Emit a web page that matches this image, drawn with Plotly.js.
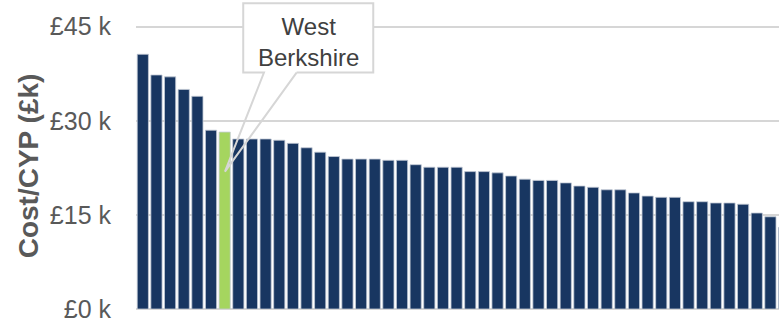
<!DOCTYPE html>
<html>
<head>
<meta charset="utf-8">
<script src="https://cdn.plot.ly/plotly-3.0.1.min.js"></script>
<style>
  html, body { margin: 0; padding: 0; background: #ffffff; }
  #chart { width: 779px; height: 323px; }
</style>
</head>
<body>
<div id="chart"></div>
<script>
// Cost per child / young person (£k), local authorities ranked high to low
const rank = [];
for (let i = 1; i <= 48; i++) rank.push(i);

const costPerCYP = [
  40.6, 37.3, 37.0, 35.0, 33.9, 28.5, 28.2, 27.1, 27.1, 27.1,
  26.9, 26.4, 25.7, 25.0, 24.3, 23.9, 23.9, 23.9, 23.7, 23.7,
  23.0, 22.6, 22.6, 22.6, 21.9, 21.9, 21.7, 21.2, 20.7, 20.5,
  20.5, 20.1, 19.6, 19.4, 19.0, 19.0, 18.5, 18.0, 17.8, 17.8,
  17.1, 17.1, 16.9, 16.9, 16.7, 15.3, 14.7, 13.0
];

const highlightName = 'West Berkshire';
const highlightRank = 7;

const yTicks = [0, 15, 30, 45];
const yTickText = yTicks.map(v => '£' + v + ' k');

const navy = '#183661';
const green = '#a5d55f';
const grey = '#595959';
const lineGrey = '#d6d6d6';

const colors = rank.map(r => (r === highlightRank ? green : navy));

const trace = {
  type: 'bar',
  x: rank,
  y: costPerCYP,
  marker: { color: colors, line: { color: '#c3cad6', width: 0.8 } },
  hoverinfo: 'y'
};

// callout box around the label, pointer aimed at the highlighted bar
const box = { x0: 8.36, x1: 17.89, y0: 37.68, y1: 48.73 };
const base = { left: 9.88, right: 12.27 };
const tip = { x: highlightRank + 0.02, y: 21.9 };

const outline =
  'M ' + base.right + ',' + box.y0 +
  ' L ' + box.x1 + ',' + box.y0 +
  ' L ' + box.x1 + ',' + box.y1 +
  ' L ' + box.x0 + ',' + box.y1 +
  ' L ' + box.x0 + ',' + box.y0 +
  ' L ' + base.left + ',' + box.y0 +
  ' L ' + tip.x + ',' + tip.y +
  ' L ' + base.right + ',' + box.y0;

const layout = {
  width: 779,
  height: 323,
  margin: { l: 136, r: 0, t: 0, b: 13.5, pad: 0 },
  paper_bgcolor: '#ffffff',
  plot_bgcolor: '#ffffff',
  showlegend: false,
  bargap: 0.18,
  font: { family: '"Liberation Sans", Arial, sans-serif', color: grey },
  xaxis: {
    range: [0.5, 47.63],
    showticklabels: false,
    showgrid: false,
    zeroline: false,
    ticks: '',
    fixedrange: true
  },
  yaxis: {
    range: [0, 49.25],
    tickmode: 'array',
    tickvals: yTicks,
    ticktext: yTickText,
    tickfont: { size: 25, color: grey },
    ticks: 'outside',
    ticklen: 19,
    tickcolor: 'rgba(0,0,0,0)',
    showgrid: true,
    gridcolor: lineGrey,
    gridwidth: 2,
    zeroline: true,
    zerolinecolor: lineGrey,
    zerolinewidth: 2,
    automargin: false,
    fixedrange: true
  },
  shapes: [
    {
      type: 'rect', xref: 'x', yref: 'y',
      x0: box.x0, x1: box.x1, y0: box.y0, y1: box.y1,
      fillcolor: '#ffffff', line: { width: 0 }, layer: 'above'
    },
    {
      type: 'path', xref: 'x', yref: 'y', path: outline,
      fillcolor: 'rgba(0,0,0,0)', line: { color: lineGrey, width: 2 }, layer: 'above'
    }
  ],
  annotations: [
    {
      xref: 'x', yref: 'y',
      x: (box.x0 + box.x1) / 2, y: 42.6,
      text: highlightName.replace(' ', '<br>'),
      showarrow: false,
      font: { size: 24, color: '#404040' },
      align: 'center'
    },
    {
      xref: 'paper', yref: 'paper',
      x: -0.168, xanchor: 'center',
      y: 0.465, yanchor: 'middle',
      text: '<b>Cost/CYP (£k)</b>',
      textangle: -90,
      showarrow: false,
      font: { size: 28, color: grey }
    }
  ]
};

Plotly.newPlot('chart', [trace], layout, { displayModeBar: false, staticPlot: true });
</script>
</body>
</html>
